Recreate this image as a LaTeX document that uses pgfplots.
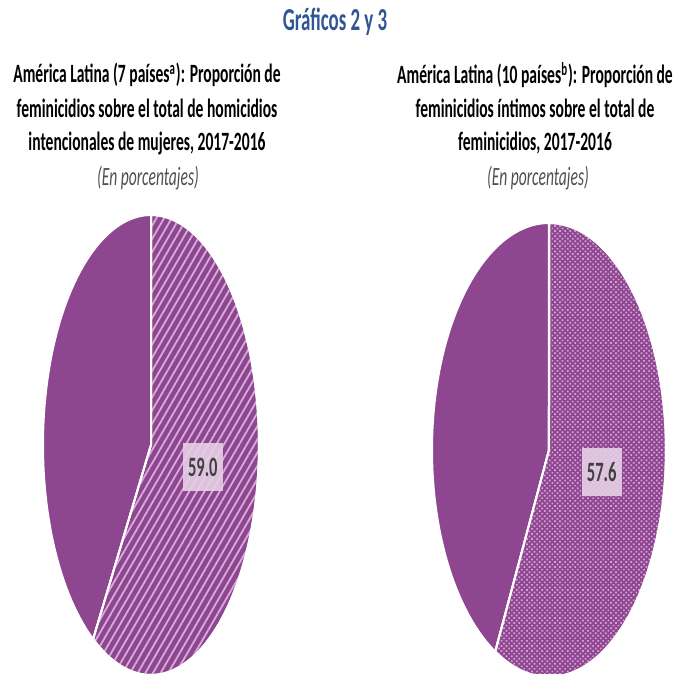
\documentclass[border=0pt]{standalone}
\usepackage{pgfplots}
\pgfplotsset{compat=1.18}
\usepackage{fontspec}
\setmainfont{Carlito}[FakeStretch=0.59]
\usetikzlibrary{patterns.meta}
\definecolor{piepurple}{RGB}{142,70,145}
\definecolor{hatchc}{RGB}{216,172,216}
\definecolor{dotc}{RGB}{212,162,212}
\definecolor{titleblue}{RGB}{47,85,151}
\definecolor{subgray}{RGB}{80,80,80}
\definecolor{labelgray}{RGB}{64,64,64}
\definecolor{boxpink}{RGB}{230,208,230}
% slice values (per cent)
\def\valA{59.0}
\def\valB{57.6}
\begin{document}
\begin{tikzpicture}
\useasboundingbox (0,0) rectangle (338.5pt,337pt);
\pgfmathsetmacro\angA{90-3.6*\valA}
\pgfmathsetmacro\angB{90-3.6*\valB}
\pgfplotsset{pie/.style={hide axis, scale only axis, xmin=-1,xmax=1,ymin=-1,ymax=1, clip=false, anchor=center}}
\tikzset{sub/.style={font=\bfseries\fontsize{13.2}{16}\selectfont, text=black, anchor=center, inner sep=0pt},
 subit/.style={font=\itshape\fontsize{13.2}{16}\selectfont, text=subgray, anchor=center, inner sep=0pt},
 lab/.style={fill=boxpink, fill opacity=0.9, text opacity=1, text=labelgray, font=\bfseries\fontsize{14}{14}\selectfont, minimum width=20pt, minimum height=24pt, inner sep=0pt}}
% title
\node[font=\bfseries\fontsize{16}{18}\selectfont, text=titleblue, inner sep=0pt] at (167.5pt,326pt) {Gráficos 2 y 3};
% left subtitle
\node[sub] at (73.5pt,299.5pt) {América Latina (7 países\textsuperscript{a}): Proporción de};
\node[sub] at (73.5pt,283pt) {feminicidios sobre el total de homicidios};
\node[sub] at (73.5pt,265.5pt) {intencionales de mujeres, 2017-2016};
\node[subit] at (74pt,248pt) {(En porcentajes)};
% right subtitle
\node[sub] at (267.5pt,299.5pt) {América Latina (10 países\textsuperscript{b}): Proporción de};
\node[sub] at (267.5pt,283pt) {feminicidios íntimos sobre el total de};
\node[sub] at (267.5pt,265.5pt) {feminicidios, 2017-2016};
\node[subit] at (269pt,248pt) {(En porcentajes)};
% left pie
\begin{axis}[pie, at={(75.5pt,114.5pt)}, width=108pt, height=230pt]
\addplot[fill=piepurple, draw=white, line width=1pt, domain=-270:\angA, samples=150] ({cos(x)},{sin(x)}) -- (0,0) -- cycle;
\addplot[fill=piepurple, draw=white, line width=1pt, postaction={pattern={Lines[angle=60,distance=3.3pt,line width=0.9pt]}, pattern color=hatchc}, domain=\angA:90, samples=150] ({cos(x)},{sin(x)}) -- (0,0) -- cycle;
\node[lab] at (axis cs:0.48,-0.096) {59.0};
\end{axis}
% right pie
\begin{axis}[pie, at={(274.5pt,112pt)}, width=117pt, height=227pt]
\addplot[fill=piepurple, draw=white, line width=1pt, domain=-270:\angB, samples=150] ({cos(x)},{sin(x)}) -- (0,0) -- cycle;
\addplot[fill=piepurple, draw=white, line width=1pt, postaction={pattern={Dots[distance=1.8pt,radius=0.6pt,angle=45]}, pattern color=dotc}, domain=\angB:90, samples=150] ({cos(x)},{sin(x)}) -- (0,0) -- cycle;
\node[lab] at (axis cs:0.45,-0.097) {57.6};
\end{axis}
\end{tikzpicture}
\end{document}
